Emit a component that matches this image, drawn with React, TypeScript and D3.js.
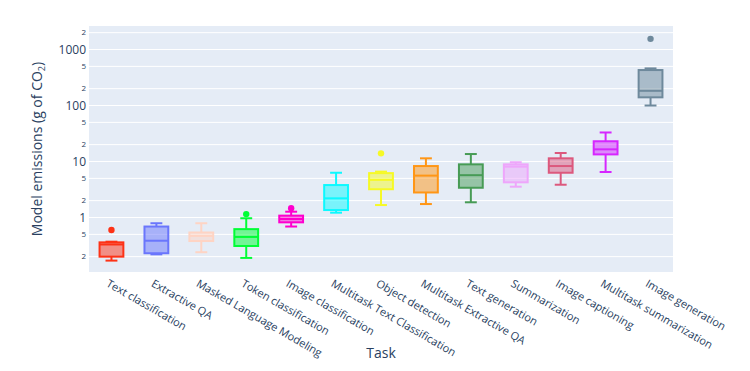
import React from "react";
import * as d3 from "d3";

const tasks = [
  "Text classification",
  "Extractive QA",
  "Masked Language Modeling",
  "Token classification",
  "Image classification",
  "Multitask Text Classification",
  "Object detection",
  "Multitask Extractive QA",
  "Text generation",
  "Summarization",
  "Image captioning",
  "Multitask summarization",
  "Image generation",
];
const colors = [
  "#FD3216", "#6A76FC", "#FED4C4", "#00FE35", "#FE00CE", "#0DF9FF", "#F6F926",
  "#FF9616", "#479B55", "#EEA6FB", "#DC587D", "#D626FF", "#6E899C",
];
const lowerFence = [0.17, 0.22, 0.24, 0.19, 0.69, 1.22, 1.67, 1.74, 1.87, 3.55, 3.85, 6.5, 100];
const q1 = [0.2, 0.23, 0.38, 0.31, 0.82, 1.36, 3.2, 2.8, 3.4, 4.25, 6.3, 13.4, 140];
const median = [0.33, 0.385, 0.47, 0.45, 0.94, 2.2, 4.7, 5.6, 5.7, 8.1, 8.3, 16.5, 183];
const q3 = [0.36, 0.69, 0.54, 0.62, 1.08, 3.8, 6.2, 8.3, 8.9, 8.9, 11.4, 23, 430];
const upperFence = [0.37, 0.79, 0.79, 0.97, 1.27, 6.3, 6.6, 11.4, 13.6, 9.7, 14.2, 33, 460];
const outliers: number[][] = [[0.6], [], [], [1.15], [1.46], [], [14], [], [], [], [], [], [1550]];

const majorTicks = [1, 10, 100, 1000];
const minorTicks = [0.2, 0.5, 2, 5, 20, 50, 200, 500, 2000];

const W = 750, H = 371;
const left = 89, right = 673, top = 26, bottom = 272;
const font = "'Open Sans', sans-serif";
const textColor = "#2a3f5f";

function hexToRgba(hex: string, a: number) {
  const c = d3.rgb(hex);
  return `rgba(${c.r},${c.g},${c.b},${a})`;
}

export default function App() {
  const x = d3.scaleBand<string>().domain(tasks).range([left, right]);
  const y = d3.scaleLog().domain([0.1064, 2630]).range([bottom, top]);
  const bw = x.bandwidth() * 0.53;
  const cw = bw / 2;

  return (
    <svg width={W} height={H} style={{ position: "absolute", left: 0, top: 0, background: "#fff" }} fontFamily={font}>
      <rect x={left} y={top} width={right - left} height={bottom - top} fill="#E5ECF6" />
      {[...majorTicks, ...minorTicks].map((t) => (
        <line key={"g" + t} x1={left} x2={right} y1={y(t)} y2={y(t)} stroke="#fff" strokeWidth={1} />
      ))}
      {majorTicks.map((t) => (
        <text key={"m" + t} x={left - 3} y={y(t)} dy="0.35em" textAnchor="end" fontSize={12} fill={textColor}>
          {t}
        </text>
      ))}
      {minorTicks.map((t) => (
        <text key={"n" + t} x={left - 3} y={y(t)} dy="0.35em" textAnchor="end" fontSize={8} fill={textColor}>
          {String(t).replace(/0+$/, "").replace(/^0\./, "")}
        </text>
      ))}
      {tasks.map((t, i) => {
        const cx = (x(t) as number) + x.bandwidth() / 2;
        const col = colors[i];
        return (
          <g key={t}>
            <line x1={cx} x2={cx} y1={y(q3[i])} y2={y(upperFence[i])} stroke={col} strokeWidth={2} />
            <line x1={cx} x2={cx} y1={y(q1[i])} y2={y(lowerFence[i])} stroke={col} strokeWidth={2} />
            <line x1={cx - cw / 2} x2={cx + cw / 2} y1={y(upperFence[i])} y2={y(upperFence[i])} stroke={col} strokeWidth={2} />
            <line x1={cx - cw / 2} x2={cx + cw / 2} y1={y(lowerFence[i])} y2={y(lowerFence[i])} stroke={col} strokeWidth={2} />
            <rect
              x={cx - bw / 2}
              y={y(q3[i])}
              width={bw}
              height={y(q1[i]) - y(q3[i])}
              fill={hexToRgba(col, 0.5)}
              stroke={col}
              strokeWidth={2}
            />
            <line x1={cx - bw / 2} x2={cx + bw / 2} y1={y(median[i])} y2={y(median[i])} stroke={col} strokeWidth={2} />
            {outliers[i].map((o, j) => (
              <circle key={j} cx={cx} cy={y(o)} r={3.2} fill={col} />
            ))}
            <text
              transform={`translate(${cx - 2},${bottom + 7}) rotate(30)`}
              fontSize={11}
              fill={textColor}
              dy="0.7em"
              textAnchor="start"
            >
              {t}
            </text>
          </g>
        );
      })}
      <text
        transform={`translate(42,${(top + bottom) / 2}) rotate(-90)`}
        textAnchor="middle"
        fontSize={14}
        fill={textColor}
      >
        Model emissions (g of CO<tspan baseline-shift="-3" fontSize={9}>2</tspan>)
      </text>
      <text x={(left + right) / 2} y={358} textAnchor="middle" fontSize={14} fill={textColor}>
        Task
      </text>
    </svg>
  );
}
